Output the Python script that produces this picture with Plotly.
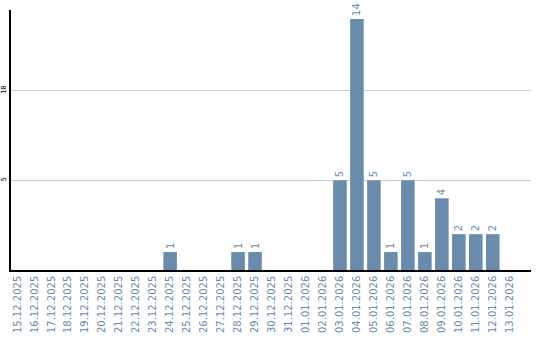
import plotly.graph_objects as go

dates = ["15.12.2025", "16.12.2025", "17.12.2025", "18.12.2025", "19.12.2025",
         "20.12.2025", "21.12.2025", "22.12.2025", "23.12.2025", "24.12.2025",
         "25.12.2025", "26.12.2025", "27.12.2025", "28.12.2025", "29.12.2025",
         "30.12.2025", "31.12.2025", "01.01.2026", "02.01.2026", "03.01.2026",
         "04.01.2026", "05.01.2026", "06.01.2026", "07.01.2026", "08.01.2026",
         "09.01.2026", "10.01.2026", "11.01.2026", "12.01.2026", "13.01.2026"]
values = [0, 0, 0, 0, 0, 0, 0, 0, 0, 1,
          0, 0, 0, 1, 1, 0, 0, 0, 0, 5,
          14, 5, 1, 5, 1, 4, 2, 2, 2, 0]
labels = [str(v) if v > 0 else "" for v in values]
y_ticks = [5, 10]

bar_color = "#6a8bab"

fig = go.Figure(go.Bar(
    x=list(range(len(dates))), y=values, text=labels,
    textposition="outside", textangle=-90,
    textfont=dict(family="DejaVu Sans", size=10, color=bar_color),
    marker=dict(color=bar_color, line=dict(width=0)),
    width=0.8, cliponaxis=False,
))

fig.update_layout(
    width=540, height=340,
    margin=dict(l=11, r=9, t=10, b=70, autoexpand=False),
    paper_bgcolor="white", plot_bgcolor="white",
    showlegend=False,
    xaxis=dict(
        range=[-0.37, 30.25], automargin=False,
        tickmode="array", tickvals=list(range(len(dates))), ticktext=dates,
        tickangle=-90, tickfont=dict(family="DejaVu Sans", size=10, color=bar_color),
        showline=True, linecolor="black", linewidth=1.5,
        showgrid=False, ticks="", zeroline=False,
    ),
    yaxis=dict(
        range=[0, 14.5], automargin=False,
        tickmode="array", tickvals=y_ticks, ticktext=[str(t) for t in y_ticks],
        tickangle=-90, tickfont=dict(family="DejaVu Sans Mono", size=7, color="black"),
        showline=True, linecolor="black", linewidth=1.5,
        showgrid=True, gridcolor="#cccccc", gridwidth=1,
        ticks="", zeroline=False,
    ),
)

fig.write_html("out.html")
